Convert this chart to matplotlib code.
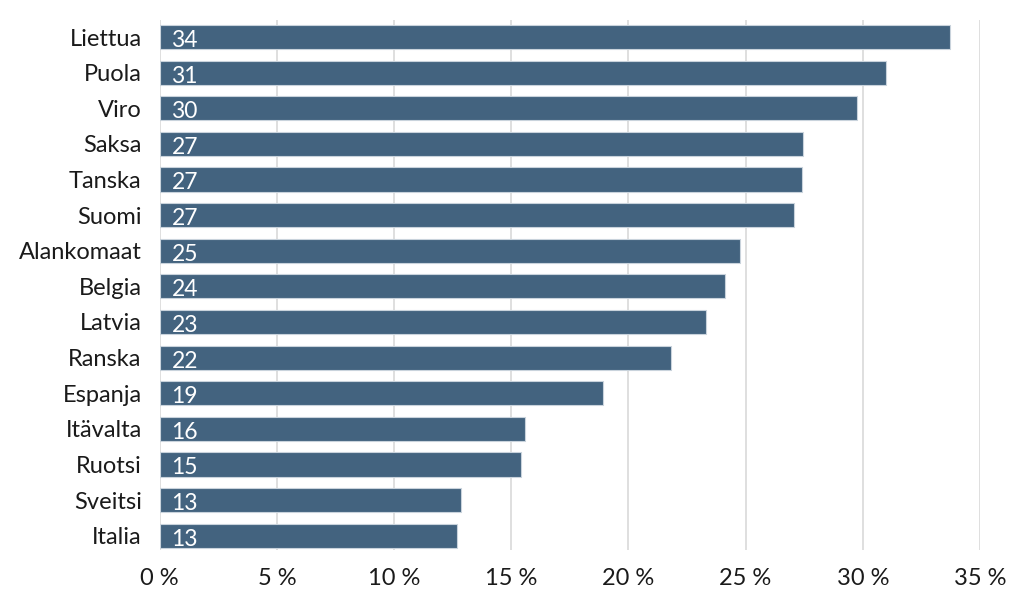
import matplotlib
matplotlib.use("Agg")
import matplotlib.pyplot as plt
from matplotlib.ticker import FuncFormatter

plt.rcParams["font.family"] = ["Lato", "DejaVu Sans"]

countries = ["Liettua", "Puola", "Viro", "Saksa", "Tanska", "Suomi", "Alankomaat",
             "Belgia", "Latvia", "Ranska", "Espanja", "Itävalta", "Ruotsi", "Sveitsi", "Italia"]
values = [33.7, 31.0, 29.75, 27.45, 27.4, 27.05, 24.75, 24.1, 23.3, 21.8, 18.9, 15.6, 15.4, 12.85, 12.7]

bar_color = "#43637f"

fig = plt.figure(figsize=(10.24, 6.05), dpi=100)
ax = fig.add_axes([0.156, 0.091, 0.801, 0.876])

pos = range(len(countries))
ax.barh(pos, values, height=0.68, color=bar_color, edgecolor="#c9d3dc", linewidth=0.8, zorder=3)
for i, v in zip(pos, values):
    ax.text(0.5, i + 0.04, f"{round(v):d}", color="white", fontsize=16.5,
            va="center_baseline", ha="left", zorder=4)

ax.set_yticks(list(pos))
ax.set_yticklabels(countries, fontsize=17, color="#1a1a1a")
ax.set_ylim(14.4, -0.48)
ax.set_xlim(0, 35)
ax.set_xticks(range(0, 36, 5))
ax.xaxis.set_major_formatter(FuncFormatter(lambda x, _: f"{int(x)} %"))
ax.tick_params(axis="x", labelsize=17, colors="#1a1a1a", length=0, pad=13)
ax.tick_params(axis="y", length=0, pad=13)
ax.grid(axis="x", color="#d9d9d9", linewidth=1.2, zorder=0)
for s in ax.spines.values():
    s.set_visible(False)

fig.savefig("out.png", dpi=100)
